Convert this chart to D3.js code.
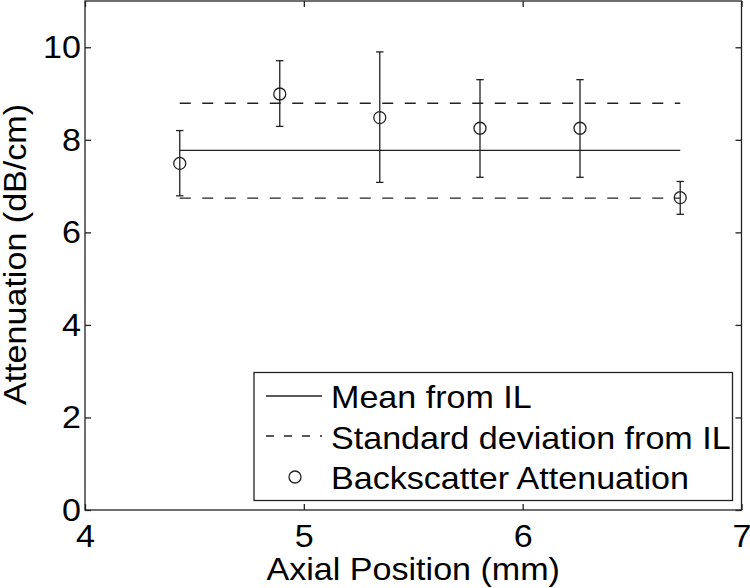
<!DOCTYPE html>
<html><head><meta charset="utf-8">
<script src="https://cdn.jsdelivr.net/npm/d3@7"></script>
<style>body{margin:0;background:#fff}svg{display:block}text{font-family:"Liberation Sans",Arial,Helvetica,sans-serif;fill:#000}</style>
</head><body><svg id="c" width="750" height="588"></svg>
<script>
const positions = [4.433, 4.890, 5.347, 5.805, 6.262, 6.720];
const attenuation = [7.49, 8.99, 8.48, 8.25, 8.25, 6.75];
const errUpper = [8.20, 9.71, 9.90, 9.30, 9.30, 7.10];
const errLower = [6.79, 8.29, 7.08, 7.19, 7.19, 6.39];
const meanIL = 7.77;
const stdUpper = 8.79;
const stdLower = 6.74;
const xTicks = [4, 5, 6, 7];
const yTicks = [0, 2, 4, 6, 8, 10];
const legendLabels = ["Mean from IL", "Standard deviation from IL", "Backscatter Attenuation"];

const svg = d3.select("#c");
const L = 85, R = 741.5, T = 1, B = 510;
const x = d3.scaleLinear().domain([4, 7]).range([L, R]);
const y = d3.scaleLinear().domain([0, 11]).range([B, T]);
const ink = "#222";
const fs = 32;
const sx = 1.065; // horizontal glyph stretch seen in the reference

// frame
svg.append("rect").attr("x", L).attr("y", T).attr("width", R - L).attr("height", B - T)
  .attr("fill", "none").attr("stroke", ink).attr("stroke-width", 1.3);

// axes (inward ticks)
const tl = 6;
const gx = svg.append("g").attr("transform", `translate(0,${B})`)
  .call(d3.axisBottom(x).tickValues(xTicks).tickSizeInner(-tl).tickSizeOuter(0).tickPadding(14).tickFormat(d3.format("d")));
const gxTop = svg.append("g").attr("transform", `translate(0,${T})`)
  .call(d3.axisTop(x).tickValues(xTicks).tickSizeInner(-tl).tickSizeOuter(0).tickFormat(""));
const gy = svg.append("g").attr("transform", `translate(${L},0)`)
  .call(d3.axisLeft(y).tickValues(yTicks).tickSizeInner(-tl).tickSizeOuter(0).tickPadding(4).tickFormat(d3.format("d")));
const gyR = svg.append("g").attr("transform", `translate(${R},0)`)
  .call(d3.axisRight(y).tickValues(yTicks).tickSizeInner(-tl).tickSizeOuter(0).tickFormat(""));
[gx, gxTop, gy, gyR].forEach(g => {
  g.select(".domain").remove();
  g.selectAll(".tick line").attr("stroke", ink).attr("stroke-width", 1.3);
  g.selectAll("text").attr("font-size", fs).attr("font-family", '"Liberation Sans",Arial,sans-serif').attr("fill", "#000");
});
gx.selectAll("text").attr("dy", "0.71em").attr("transform", `scale(${sx},1)`);
gy.selectAll("text").each(function () {
  const t = d3.select(this);
  const tx = +t.attr("x");
  t.attr("x", 0).attr("transform", `translate(${tx},0) scale(${sx},1)`);
});

// axis titles
svg.append("text").attr("transform", `translate(${(L + R) / 2},580) scale(${sx},1)`).attr("text-anchor", "middle")
  .attr("font-size", fs).text("Axial Position (mm)");
svg.append("text").attr("transform", `translate(26,${(T + B) / 2 - 1}) rotate(-90) scale(${sx},1)`).attr("text-anchor", "middle")
  .attr("font-size", fs).text("Attenuation (dB/cm)");

// lines
const x0 = positions[0], x1 = positions[positions.length - 1];
svg.append("line").attr("x1", x(x0)).attr("x2", x(x1)).attr("y1", y(meanIL)).attr("y2", y(meanIL))
  .attr("stroke", ink).attr("stroke-width", 1.3);
[stdUpper, stdLower].forEach(v => {
  svg.append("line").attr("x1", x(x0)).attr("x2", x(x1)).attr("y1", y(v)).attr("y2", y(v))
    .attr("stroke", ink).attr("stroke-width", 1.3).attr("stroke-dasharray", "11,11.5");
});

// error bars
const cap = 3.7;
const eb = svg.append("g").attr("stroke", ink).attr("stroke-width", 1.3).attr("fill", "none");
positions.forEach((p, i) => {
  eb.append("line").attr("x1", x(p)).attr("x2", x(p)).attr("y1", y(errUpper[i])).attr("y2", y(errLower[i]));
  eb.append("line").attr("x1", x(p) - cap).attr("x2", x(p) + cap).attr("y1", y(errUpper[i])).attr("y2", y(errUpper[i]));
  eb.append("line").attr("x1", x(p) - cap).attr("x2", x(p) + cap).attr("y1", y(errLower[i])).attr("y2", y(errLower[i]));
  eb.append("circle").attr("cx", x(p)).attr("cy", y(attenuation[i])).attr("r", 6);
});

// legend
const lg = svg.append("g");
lg.append("rect").attr("x", 254).attr("y", 372.5).attr("width", 478.5).attr("height", 128)
  .attr("fill", "#fff").attr("stroke", ink).attr("stroke-width", 1.3);
const rowsY = [396, 437.5, 477];
legendLabels.forEach((t, i) => {
  lg.append("text").attr("transform", `translate(331,${rowsY[i]}) scale(${sx},1)`).attr("dy", "0.36em").attr("font-size", fs).text(t);
});
lg.append("line").attr("x1", 266).attr("x2", 322).attr("y1", rowsY[0]).attr("y2", rowsY[0]).attr("stroke", ink).attr("stroke-width", 1.3);
lg.append("line").attr("x1", 266).attr("x2", 322).attr("y1", rowsY[1] - 1.5).attr("y2", rowsY[1] - 1.5).attr("stroke", ink).attr("stroke-width", 1.3).attr("stroke-dasharray", "8,10");
lg.append("circle").attr("cx", 295).attr("cy", rowsY[2]).attr("r", 6).attr("fill", "none").attr("stroke", ink).attr("stroke-width", 1.3);
</script></body></html>
